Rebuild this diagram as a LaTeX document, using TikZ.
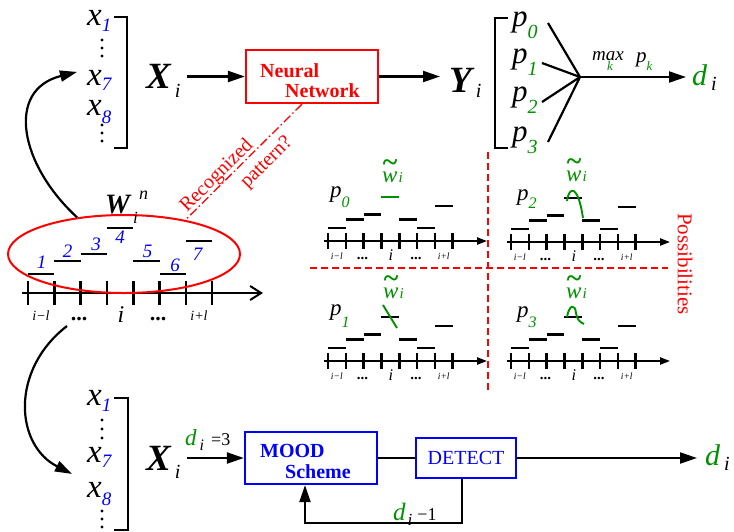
\documentclass[tikz,border=0pt]{standalone}
\usepackage{fontspec}
\setmainfont{Liberation Serif}
\usetikzlibrary{arrows.meta,calc,shapes.geometric}
\definecolor{gcol}{RGB}{0,145,0}
\newcommand\fsz[1]{\fontsize{#1}{#1}\selectfont}
\newcommand\xv[2]{{\fsz{33}\itshape x}{\fsz{19}\itshape\color{blue}\raisebox{-#2pt}{#1}}}
\newcommand\seqaxis[4]{%
\begin{scope}[#2]
\draw[line width=2pt,#4] (-6,0) -- (235,0);
\foreach \k in {0,...,7}{\draw[line width=2.6pt] ({\k*26.3},-12) -- ({\k*26.3},12);}
\foreach \a/\h in {1/19,2/32,3/39,5/32,6/19,7/52}{\draw[line width=2.6pt] ({(\a-1)*26.3},{-\h}) -- ({\a*26.3},{-\h});}
\draw[line width=2.6pt,#3] ({3*26.3},-65) -- ({4*26.3},-65);
\node[lbc] (#1-a) at (13,27) {\fsz{14}\itshape i−l};
\node[lbc] (#1-b) at (51,27) {\fsz{22}\bfseries ...};
\node[lbc] (#1-c) at (93,29) {\fsz{24}\itshape i};
\node[lbc] (#1-d) at (130,27) {\fsz{22}\bfseries ...};
\node[lbc] (#1-e) at (171,27) {\fsz{14}\itshape i+l};
\end{scope}}
\newcommand\wtil[3]{\node[lbl,gcol] (#1) at (#2,#3) {\fsz{23}\itshape\ooalign{w\cr\hidewidth\raisebox{11pt}{\fsz{28}\bfseries\textasciitilde}\hidewidth\cr}\hspace{1pt}\fsz{15}i};}
\begin{document}
\begin{tikzpicture}[x=1pt,y=-1pt,
  lbl/.style={inner sep=0pt,anchor=base west},
  lbc/.style={inner sep=0pt,anchor=base},
  conn/.style={line width=2.2pt},
  arr/.style={conn,-{Triangle[length=17pt,width=11pt]}},
  box/.style={draw,line width=2.2pt,inner sep=0pt},
  vdot/.style={circle,fill,inner sep=0pt,minimum size=3.4pt}]
\useasboundingbox (0,0) rectangle (734,531);

% ---------- top vector ----------
\node[lbl] (tx1) at (87,25) {\xv{1}{6}};
\node[lbl] (tx7) at (87,85) {\xv{7}{5}};
\node[lbl] (tx8) at (87,115) {\xv{8}{8}};
\node[vdot] (td1) at (102,40) {};
\node[vdot] (td2) at (102,48) {};
\node[vdot] (td3) at (102,56) {};
\node[vdot] (td4) at (102,125) {};
\node[vdot] (td5) at (102,133) {};
\node[vdot] (td6) at (102,141) {};
\draw[conn] (114,17) -- (127,17) -- (127,148) -- (114,148);
\node[lbl] (tX) at (146,88) {{\fsz{37}\bfseries\itshape X}\hspace{4pt}{\fsz{20}\itshape\raisebox{-9pt}{i}}};

\node[box,red,minimum width=132pt,minimum height=53pt] (nn) at (312,76.5) {};
\node[lbl,red] (nn1) at (260,77) {\fsz{20}\bfseries Neural};
\node[lbl,red] (nn2) at (285,97) {\fsz{20}\bfseries Network};
\draw[arr] ([xshift=6pt]tX.east |- nn.west) -- (nn.west);

\node[lbl] (tY) at (449,92) {{\fsz{37}\bfseries\itshape Y}\hspace{4pt}{\fsz{20}\itshape\raisebox{-5pt}{i}}};
\draw[arr] (nn.east) -- ([xshift=-9pt]tY.west |- nn.east);
\draw[conn] (508,18) -- (495,18) -- (495,148) -- (508,148);

\node[lbl] (p0) at (512,26) {{\fsz{31}\itshape p}{\fsz{20}\itshape\color{gcol}\raisebox{-12pt}{0}}};
\node[lbl] (p1) at (512,63) {{\fsz{31}\itshape p}{\fsz{20}\itshape\color{gcol}\raisebox{-12pt}{1}}};
\node[lbl] (p2) at (512,101) {{\fsz{31}\itshape p}{\fsz{20}\itshape\color{gcol}\raisebox{-12pt}{2}}};
\node[lbl] (p3) at (512,141) {{\fsz{31}\itshape p}{\fsz{20}\itshape\color{gcol}\raisebox{-12pt}{3}}};
\coordinate (fan) at (580,77);
\coordinate (f0) at (548,23);
\coordinate (f1) at (542,63);
\coordinate (f2) at (542,102);
\coordinate (f3) at (548,142);
\draw[conn] (f0) -- (fan);
\draw[conn] (f1) -- (fan);
\draw[conn] (f2) -- (fan);
\draw[conn] (f3) -- (fan);
\node[lbl] (tdi) at (692,85) {{\fsz{30}\itshape\color{gcol}d}\hspace{4pt}{\fsz{20}\itshape\raisebox{-5pt}{i}}};
\draw[arr] (fan) -- ([xshift=-6pt]tdi.west |- fan);
\node[lbl] (mx) at (592,60) {\fsz{19}\itshape max};
\node[lbl,gcol] (mxk) at (607,70) {\fsz{13}\itshape k};
\node[lbl] (pk) at (636,62) {{\fsz{21}\itshape p}{\fsz{13}\itshape\color{gcol}\raisebox{-8pt}{k}}};

% ---------- middle left ----------
\seqaxis{B}{shift={(28,293)}}{black}{-{Straight Barb[length=11pt,width=14pt]}}
\node[draw=red,ellipse,line width=2pt,minimum width=232pt,minimum height=78pt,inner sep=0pt] (ell) at (124,254) {};
\node[lbl] (W) at (105,213) {\fsz{28}\bfseries\itshape W};
\node[lbl] (Wn) at (139,199) {\fsz{18}\itshape n};
\node[lbl] (Wi) at (133,223) {\fsz{17}\itshape i};
\node[lbc,blue] (n1) at (41.5,268) {\fsz{19}\itshape 1};
\node[lbc,blue] (n2) at (67.5,257) {\fsz{19}\itshape 2};
\node[lbc,blue] (n3) at (96,250) {\fsz{19}\itshape 3};
\node[lbc,blue] (n4) at (120,243) {\fsz{19}\itshape 4};
\node[lbc,blue] (n5) at (147.5,257) {\fsz{19}\itshape 5};
\node[lbc,blue] (n6) at (175,271) {\fsz{19}\itshape 6};
\node[lbc,blue] (n7) at (197.5,260) {\fsz{19}\itshape 7};

\draw[arr] (ell.142) .. controls (20,165) and (5,90) .. ([shift={(-10,-8)}]tx7.west);
\coordinate (cs) at (67,326);

% recognized pattern
\draw[red,line width=1.3pt,dash pattern=on 9pt off 3pt on 1.5pt off 3pt] ([xshift=-10pt]nn.south) -- (ell.29);
\node[red,rotate=45,inner sep=0pt] (rec) at (217,176) {\fsz{20}Recognized};
\node[red,rotate=45,inner sep=0pt] (pat) at (267,163) {\fsz{20}pattern?};

% ---------- possibilities ----------
\draw[red,line width=1.1pt,dash pattern=on 7pt off 4pt] (488,152) -- (488,392);
\draw[red,line width=1.1pt,dash pattern=on 7pt off 4pt] (310,268) -- (668,268);
\node[red,rotate=-90,inner sep=0pt] (poss) at (685,264) {\fsz{21}Possibilities};

\seqaxis{S0}{shift={(328,241)},scale=0.677,transform shape}{gcol}{-{Triangle[length=10pt,width=7pt]}}
\seqaxis{S2}{shift={(511,242)},scale=0.677,transform shape}{black}{-{Triangle[length=10pt,width=7pt]}}
\seqaxis{S1}{shift={(328,361)},scale=0.677,transform shape}{black}{-{Triangle[length=10pt,width=7pt]}}
\seqaxis{S3}{shift={(511,361)},scale=0.677,transform shape}{black}{-{Triangle[length=10pt,width=7pt]}}

\node[lbl] (lp0) at (330,197) {{\fsz{23}\itshape p}{\fsz{16}\itshape\color{gcol}\raisebox{-10pt}{0}}};
\node[lbl] (lp2) at (517,200) {{\fsz{23}\itshape p}{\fsz{16}\itshape\color{gcol}\raisebox{-8pt}{2}}};
\node[lbl] (lp1) at (330,315) {{\fsz{23}\itshape p}{\fsz{16}\itshape\color{gcol}\raisebox{-12pt}{1}}};
\node[lbl] (lp3) at (517,317) {{\fsz{23}\itshape p}{\fsz{16}\itshape\color{gcol}\raisebox{-10pt}{3}}};
\wtil{w0}{382}{182}
\wtil{w2}{566}{181}
\wtil{w1}{383}{298}
\wtil{w3}{566}{298}
\draw[gcol,line width=1.9pt] (567,201) .. controls (569,186) and (578,184) .. (583,218);
\draw[gcol,line width=1.9pt] (383,305) -- (397,328);
\draw[gcol,line width=1.9pt] (567,317) .. controls (569,305) and (575,303) .. (576,313) .. controls (577,320) and (580,322) .. (584,324);

% ---------- bottom ----------
\node[lbl] (bx1) at (87,405) {\xv{1}{6}};
\node[lbl] (bx7) at (87,462) {\xv{7}{5}};
\node[lbl] (bx8) at (87,497) {\xv{8}{8}};
\node[vdot] (bd1) at (102,420) {};
\node[vdot] (bd2) at (102,429) {};
\node[vdot] (bd3) at (102,438) {};
\node[vdot] (bd4) at (102,511) {};
\node[vdot] (bd5) at (102,519) {};
\node[vdot] (bd6) at (102,527) {};
\draw[conn] (114,398) -- (128,398) -- (128,530) -- (114,530);
\node[lbl] (bX) at (146,470) {{\fsz{37}\bfseries\itshape X}\hspace{4pt}{\fsz{20}\itshape\raisebox{-8pt}{i}}};
\draw[arr] (cs) .. controls (10,370) and (15,445) .. ([shift={(-15,17)}]bx7.west);

\node[lbl] (d3) at (185,445) {{\fsz{23}\itshape\color{gcol}d}\hspace{3pt}{\fsz{16}\itshape\raisebox{-5pt}{i}}\hspace{7pt}{\fsz{18}=3}};
\node[box,blue,minimum width=132pt,minimum height=52pt] (mood) at (311,458) {};
\node[lbl,blue] (m1) at (260,457) {\fsz{20}\bfseries MOOD};
\node[lbl,blue] (m2) at (285,478) {\fsz{20}\bfseries Scheme};
\draw[arr] ([xshift=6pt]bX.east |- mood.west) -- (mood.west);
\node[box,blue,minimum width=100pt,minimum height=40pt] (det) at (466,458) {\fsz{20}DETECT};
\draw[conn] (mood.east) -- (det.west);
\node[lbl] (bdi) at (705,465) {{\fsz{30}\itshape\color{gcol}d}\hspace{4pt}{\fsz{20}\itshape\raisebox{-5pt}{i}}};
\draw[arr] (det.east) -- ([xshift=-8pt]bdi.west |- det.east);
\coordinate (fb1) at (462,523);
\coordinate (fb2) at (305,523);
\draw[arr] (det.south -| fb1) -- (fb1) -- (fb2) -- (mood.south -| fb2);
\node[lbl] (dm1) at (393,520) {{\fsz{25}\itshape\color{gcol}d}\hspace{2pt}{\fsz{17}\itshape\raisebox{-5pt}{i}}\hspace{5pt}{\fsz{18}−1}};
\end{tikzpicture}
\end{document}
